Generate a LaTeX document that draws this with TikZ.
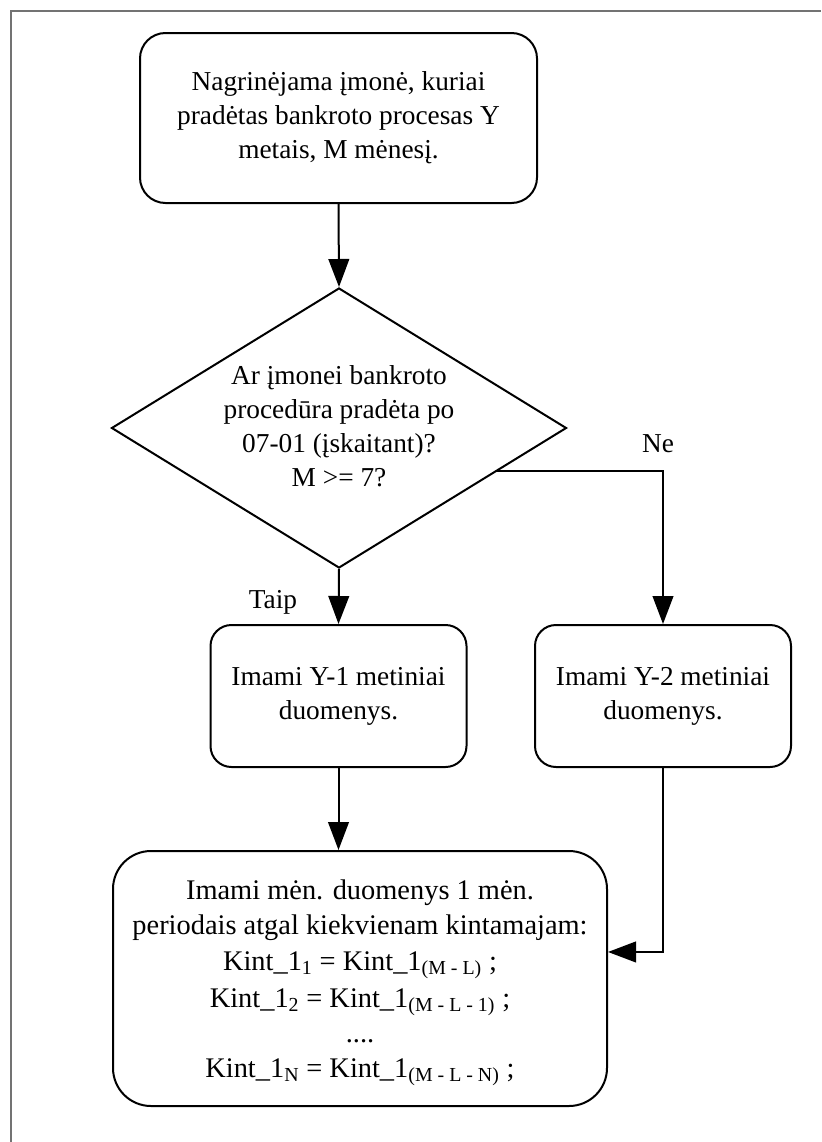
\documentclass[tikz,border=0pt]{standalone}
\usepackage{fontspec}
\setmainfont{Liberation Serif}
\usetikzlibrary{shapes.geometric,arrows.meta,calc}

\begin{document}
\begin{tikzpicture}[x=0.75pt,y=-0.75pt,
  txt/.style={font=\fontsize{20.5}{25.5}\selectfont, align=center, inner sep=0pt},
  procbox/.style={draw, line width=1.5pt, txt},
  decision/.style={draw, diamond, line width=1.5pt, inner sep=0pt, minimum width=341.25pt, minimum height=210pt},
  arr/.style={line width=1.5pt, -{Triangle[length=21pt,width=15.5pt]}}]

\useasboundingbox (0,0) rectangle (821,1142);

% partial page frame
\draw[line width=1.2pt, color={rgb,255:red,115;green,115;blue,115}] (11,1142) -- (11,11) -- (821,11);

% start box
\node[procbox, rounded corners=19.1pt, minimum width=297.75pt, minimum height=127.5pt] (start) at (338.5,118)
  {Nagrinėjama įmonė, kuriai\\pradėtas bankroto procesas Y\\metais, M mėnesį.};

% decision
\node[decision] (dia) at (339,428) {};
\node[txt] (diatext) at (339,426)
  {Ar įmonei bankroto\\procedūra pradėta po\\07-01 (įskaitant)?\\M >= 7?};

% yearly data boxes
\node[procbox, rounded corners=15.75pt, minimum width=192pt, minimum height=106.5pt] (y1) at (338.5,696)
  {Imami Y-1 metiniai\\duomenys.};
\node[procbox, rounded corners=15.75pt, minimum width=192pt, minimum height=106.5pt] (y2) at (663,696)
  {Imami Y-2 metiniai\\duomenys.};

% monthly data box
\node[procbox, rounded corners=28.5pt, minimum width=370.5pt, minimum height=191.25pt] (mon) at (360,978.5) {};
\node[txt, font=\fontsize{21.3}{25.8}\selectfont] (montext) at (360,983)
  {Imami mėn. duomenys 1 mėn.\\
   periodais atgal kiekvienam kintamajam:\\[1pt]
   Kint\_1\textsubscript{1} = Kint\_1\textsubscript{(M - L)} ;\\[2pt]
   Kint\_1\textsubscript{2} = Kint\_1\textsubscript{(M - L - 1)} ;\\[1pt]
   ....\\
   Kint\_1\textsubscript{N} = Kint\_1\textsubscript{(M - L - N)} ;};

% connectors
\draw[arr] (start.south) -- (dia.north);
\draw[arr] (dia.south) -- (y1.north);
\coordinate (neout) at ($(dia.east)!0.307!(dia.south)$);
\draw[arr] (neout) -| (y2.north);
\draw[arr] (y1.south) -- (y1.south |- mon.north);
\coordinate (monin) at ([yshift=19.9pt]mon.east);
\draw[arr] (y2.south) |- (monin);

% branch labels
\node[txt] (taip) at (273,602) {Taip};
\node[txt] (ne) at (658,444) {Ne};

\end{tikzpicture}
\end{document}
